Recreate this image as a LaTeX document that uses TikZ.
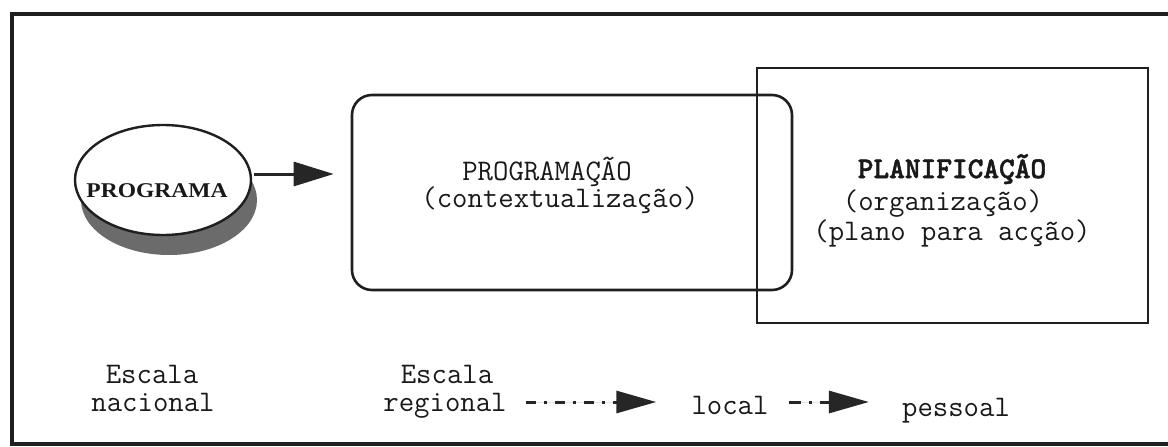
\documentclass[tikz,border=0pt]{standalone}
\usepackage{fontspec}
\newfontfamily\headserif{Liberation Serif}[FakeStretch=1.12]
\newfontfamily\ttheavy{lmmonolt10-bold.otf}[FakeBold=1.8]
\usetikzlibrary{arrows.meta,shapes.geometric}
\begin{document}
\begin{tikzpicture}[x=1pt,y=-1pt,
  frameline/.style={line width=3.2pt, draw=black!88},
  boxline/.style={draw=black!88, line width=2.6pt},
  mono/.style={font=\fontsize{29.9}{35}\selectfont\ttfamily, inner sep=0pt, anchor=base, text=black!90},
  monobold/.style={mono, font=\fontsize{29.9}{35}\selectfont\ttheavy},
  solidarrow/.style={line width=3pt, draw=black!85, fill=black!85,
    -{Triangle[length=40pt,width=24pt]}},
  dasharrow/.style={line width=3pt, draw=black!85, fill=black!85,
    dash pattern=on 10pt off 8pt on 3pt off 8pt,
    -{Triangle[length=40pt,width=22pt]}}]
\useasboundingbox (0,0) rectangle (1168,447);

% outer frame (open on the right side)
\draw[frameline] (1168,14) -- (12,14) -- (12,444) -- (1168,444);

% PROGRAMA ellipse with its drop shadow
\node[ellipse, fill=black!58, minimum width=176pt, minimum height=110pt] (progshadow) at (169,200) {};
\node[ellipse, draw=black!88, line width=2.4pt, fill=white,
      minimum width=176pt, minimum height=110pt] (prog) at (163,180) {};
\node[font=\headserif\bfseries\fontsize{21}{25}\selectfont, inner sep=0pt, anchor=base, text=black!90]
      (proglabel) at (157,197) {PROGRAMA};

% rounded box: programação
\node[boxline, rounded corners=20pt, minimum width=440pt, minimum height=195pt]
      (programacao) at (572,192.5) {};
\node[mono] (progtitle) at (547,180) {PROGRAMAÇÃO};
\node[mono] (progsub) at (560,207) {(contextualização)};

% square box: planificação
\node[boxline, minimum width=391pt, minimum height=255pt]
      (planificacao) at (952.5,195.5) {};
\node[monobold] (plantitle) at (952,178) {PLANIFICAÇÃO};
\node[mono] (plansub) at (943,210) {(organização)};
\node[mono] (planplan) at (952,240) {(plano para acção)};

% arrow from the programme to the programming box
\draw[solidarrow] ([shift={(2,-6)}]prog.east) -- ([shift={(-17,-18.5)}]programacao.west);

% scale labels along the bottom
\node[mono] (nacA) at (152,383) {Escala};
\node[mono] (nacB) at (153,411) {nacional};
\node[mono] (regA) at (447,383) {Escala};
\node[mono] (regB) at (445,411) {regional};
\node[mono] (loc) at (730,414) {local};
\node[mono] (pes) at (956,416) {pessoal};

\draw[dasharrow] ([shift={(19,-9)}]regB.base east) -- ([shift={(-35,-12)}]loc.base west);
\draw[dasharrow, dash pattern=on 12pt off 8pt on 3pt off 8pt]
      ([shift={(20,-12)}]loc.base east) -- ([shift={(-33,-14)}]pes.base west);
\end{tikzpicture}
\end{document}
